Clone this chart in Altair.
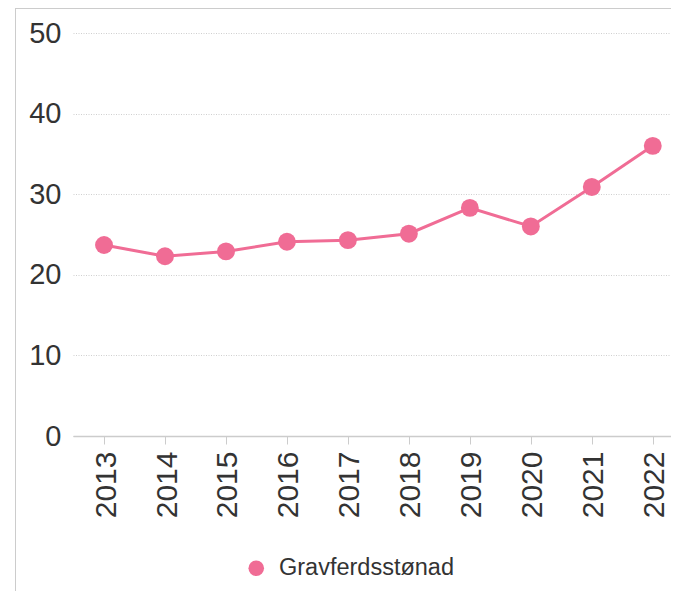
import altair as alt
import pandas as pd

years = ["2013", "2014", "2015", "2016", "2017", "2018", "2019", "2020", "2021", "2022"]
values = [23.7, 22.3, 22.9, 24.1, 24.3, 25.1, 28.3, 26.0, 30.9, 36.0]
series = "Gravferdsstønad"
pink = "#f06c95"
y_ticks = [0, 10, 20, 30, 40, 50]

df = pd.DataFrame({"year": years, "value": values, "serie": [series] * len(years)})
frame = pd.DataFrame({"k": [0]})

FONT = "Liberation Sans"

x_enc = alt.X(
    "year:O",
    title=None,
    scale=alt.Scale(type="point", padding=0.404, align=0.63),
    axis=alt.Axis(
        labelAngle=270,
        labelFontSize=30,
        labelColor="#333333",
        labelFont=FONT,
        labelPadding=7,
        labelOffset=2,
        tickSize=8,
        tickColor="#cccccc",
        domainColor="#cccccc",
        domainWidth=1.5,
        grid=False,
    ),
)
y_enc = alt.Y(
    "value:Q",
    title=None,
    scale=alt.Scale(domain=[0, 50], nice=False),
    axis=alt.Axis(
        values=y_ticks,
        labelFontSize=29,
        labelColor="#333333",
        labelFont=FONT,
        labelPadding=12,
        ticks=False,
        domain=False,
        grid=True,
        gridColor="#cfcfcf",
        gridDash=[1, 1.5],
        gridWidth=1,
    ),
)

base = alt.Chart(df)
line = base.mark_line(color=pink, strokeWidth=3).encode(x=x_enc, y=y_enc)
points = base.mark_point(filled=True, opacity=1, size=320).encode(
    x=x_enc,
    y=y_enc,
    color=alt.Color(
        "serie:N",
        scale=alt.Scale(range=[pink]),
        legend=alt.Legend(
            title=None,
            orient="none",
            legendX=171.5,
            legendY=523.5,
            symbolType="circle",
            symbolSize=243,
            symbolStrokeWidth=0,
            labelFontSize=23.5,
            labelFont=FONT,
            labelColor="#333333",
            labelOffset=11,
            labelLimit=0,
        ),
    ),
)

left_border = alt.Chart(frame).mark_rule(color="#cccccc", strokeWidth=1).encode(
    x=alt.value(-57.5), y=alt.value(-25), y2=alt.value(575)
)
top_border = alt.Chart(frame).mark_rule(color="#cccccc", strokeWidth=1).encode(
    x=alt.value(-58), x2=alt.value(600), y=alt.value(-24.5)
)

chart = (
    alt.layer(left_border, top_border, line, points)
    .properties(
        width=598,
        height=403,
        autosize=alt.AutoSizeParams(type="none"),
        padding={"left": 65, "top": 25, "right": 0, "bottom": 155},
    )
    .configure_view(stroke=None)
)

chart.save("out.html", embed_options={"renderer": "svg", "actions": False})
